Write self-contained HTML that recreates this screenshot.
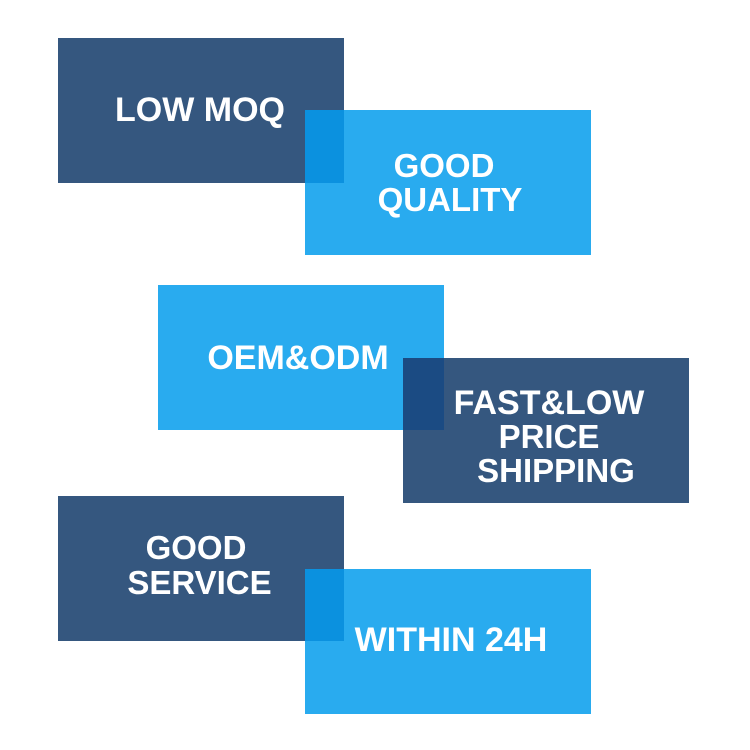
<!DOCTYPE html>
<html>
<head>
<meta charset="utf-8">
<style>
  html,body{margin:0;padding:0;background:#ffffff;}
  body{width:750px;height:750px;position:relative;overflow:hidden;}
  .r{position:absolute;}
  .dark{background:#35577f;}
  .light{background:#29abef;}
  .t{position:absolute;width:300px;text-align:center;color:#ffffff;
     font-family:"Liberation Sans",Arial,sans-serif;font-weight:bold;
     font-size:33px;line-height:33px;height:33px;letter-spacing:0;white-space:nowrap;}
  .b{font-size:34px;line-height:34px;height:34px;}
</style>
</head>
<body>
  <!-- Box 1 / 2 -->
  <div class="r dark" style="left:58px;top:38px;width:286px;height:145px;"></div>
  <div class="r light" style="left:305px;top:110px;width:286px;height:145px;"></div>
  <div class="r" style="left:305px;top:110px;width:39px;height:73px;background:#0b91df;"></div>

  <!-- Box 3 / 4 -->
  <div class="r light" style="left:158px;top:285px;width:286px;height:145px;"></div>
  <div class="r dark" style="left:403px;top:358px;width:286px;height:145px;"></div>
  <div class="r" style="left:403px;top:358px;width:41px;height:72px;background:#1b4b83;"></div>

  <!-- Box 5 / 6 -->
  <div class="r dark" style="left:58px;top:496px;width:286px;height:145px;"></div>
  <div class="r light" style="left:305px;top:569px;width:286px;height:145px;"></div>
  <div class="r" style="left:305px;top:569px;width:39px;height:72px;background:#0b91df;"></div>

  <!-- Text -->
  <div class="t b" style="left:50px;top:92.9px;">LOW MOQ</div>
  <div class="t" style="left:294px;top:149.4px;">GOOD</div>
  <div class="t" style="left:300px;top:182.8px;">QUALITY</div>
  <div class="t b" style="left:148px;top:340.5px;">OEM&amp;ODM</div>
  <div class="t b" style="left:399px;top:385.5px;">FAST&amp;LOW</div>
  <div class="t" style="left:399px;top:420.4px;">PRICE</div>
  <div class="t" style="left:406px;top:453.8px;">SHIPPING</div>
  <div class="t" style="left:46px;top:531.4px;">GOOD</div>
  <div class="t" style="left:49.5px;top:566.4px;">SERVICE</div>
  <div class="t b" style="left:301px;top:622.9px;">WITHIN 24H</div>
</body>
</html>
